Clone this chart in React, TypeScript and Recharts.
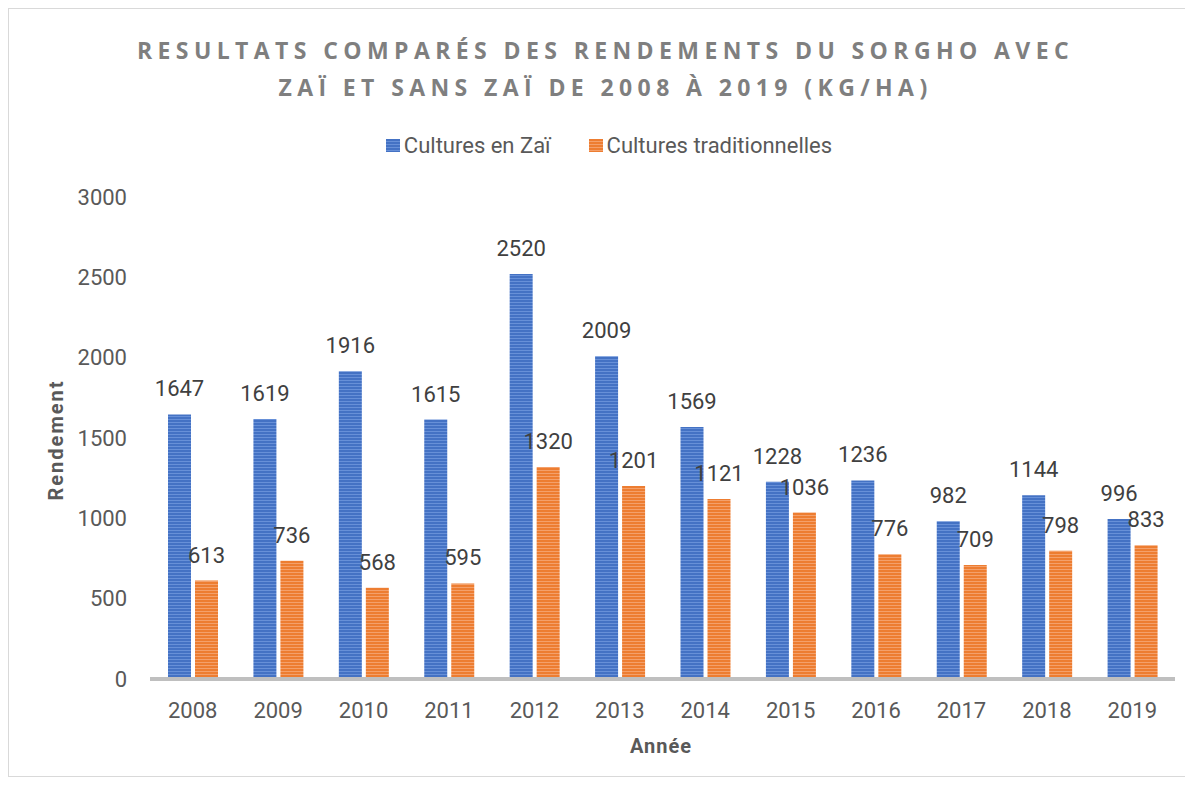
import { BarChart, Bar, XAxis, YAxis, LabelList } from "recharts";

const years = ["2008", "2009", "2010", "2011", "2012", "2013", "2014", "2015", "2016", "2017", "2018", "2019"];
const zaiYields = [1647, 1619, 1916, 1615, 2520, 2009, 1569, 1228, 1236, 982, 1144, 996];
const tradYields = [613, 736, 568, 595, 1320, 1201, 1121, 1036, 776, 709, 798, 833];
const yTicks = [0, 500, 1000, 1500, 2000, 2500, 3000];

const series = [
  { key: "zai", name: "Cultures en Zaï", color: "#4472C4", light: "#6790d8", pattern: "stripeBlue" },
  { key: "trad", name: "Cultures traditionnelles", color: "#ED7D31", light: "#f4a06a", pattern: "stripeOrange" },
];

const data = years.map((y, i) => ({ year: y, zai: zaiYields[i], trad: tradYields[i] }));

const textGray = "#595959";
const font = "Roboto, 'Noto Sans', sans-serif";

function LegendRow() {
  return (
    <div style={{ display: "flex", justifyContent: "center", alignItems: "center", height: 24, fontFamily: font, fontSize: 22, color: textGray }}>
      {series.map((s, i) => (
        <div key={s.key} style={{ display: "flex", alignItems: "center", marginLeft: i === 0 ? 0 : 38 }}>
          <div
            style={{
              width: 14,
              height: 13,
              marginRight: 4,
              background: `repeating-linear-gradient(to bottom, ${s.color} 0px, ${s.color} 2px, ${s.light} 2px, ${s.light} 3px)`,
            }}
          />
          <span>{s.name}</span>
        </div>
      ))}
    </div>
  );
}

export default function App() {
  return (
    <div
      style={{
        position: "relative",
        width: 1176,
        height: 767,
        border: "1px solid #d9d9d9",
        background: "#fff",
        overflow: "hidden",
      }}
    >
      <div
        style={{
          position: "absolute",
          top: 23,
          left: 0,
          width: 1176,
          textAlign: "center",
          fontFamily: "'Open Sans', sans-serif",
          fontWeight: 700,
          fontSize: 23,
          lineHeight: "37px",
          letterSpacing: 5.4,
          color: "#7f7f7f",
          paddingLeft: 17,
          boxSizing: "border-box",
        }}
      >
        <div>RESULTATS COMPARÉS DES RENDEMENTS DU SORGHO AVEC</div>
        <div>ZAÏ ET SANS ZAÏ DE 2008 À 2019 (KG/HA)</div>
      </div>

      <div style={{ position: "absolute", top: 124, left: 12, width: 1176 }}>
        <LegendRow />
      </div>

      <div
        style={{
          position: "absolute",
          left: 47,
          top: 431,
          transform: "translate(-50%, -50%) rotate(-90deg)",
          fontFamily: font,
          fontWeight: 700,
          fontSize: 20,
          letterSpacing: 2,
          color: textGray,
          whiteSpace: "nowrap",
        }}
      >
        Rendement
      </div>
      <div
        style={{
          position: "absolute",
          left: 652,
          top: 737,
          transform: "translate(-50%, -50%)",
          fontFamily: font,
          fontWeight: 700,
          fontSize: 20,
          letterSpacing: 1,
          color: textGray,
          whiteSpace: "nowrap",
        }}
      >
        Année
      </div>

      <div style={{ position: "absolute", left: 0, top: 0 }}>
        <BarChart
          width={1176}
          height={767}
          data={data}
          margin={{ top: 188, right: 10, bottom: 37, left: 0 }}
          barSize={23}
          barGap={4}
        >
          <defs>
            {series.map((s) => (
              <pattern key={s.pattern} id={s.pattern} patternUnits="userSpaceOnUse" width={6} height={3}>
                <rect x={0} y={0} width={6} height={3} fill={s.color} />
                <rect x={0} y={2} width={6} height={1} fill={s.light} />
              </pattern>
            ))}
          </defs>
          <XAxis
            dataKey="year"
            axisLine={{ stroke: "#bfbfbf", strokeWidth: 4 }}
            tickLine={false}
            tickSize={0}
            tickMargin={23}
            height={60}
            tick={{ fill: textGray, fontSize: 22, fontFamily: font }}
          />
          <YAxis
            domain={[0, 3000]}
            ticks={yTicks}
            width={141}
            axisLine={false}
            tickLine={false}
            tickSize={0}
            tickMargin={23}
            tick={{ fill: textGray, fontSize: 22, fontFamily: font }}
          />
          {series.map((s) => (
            <Bar key={s.key} dataKey={s.key} name={s.name} fill={`url(#${s.pattern})`} isAnimationActive={false}>
              <LabelList
                dataKey={s.key}
                position="top"
                offset={18}
                style={{ fill: "#404040", fontSize: 22, fontFamily: font }}
              />
            </Bar>
          ))}
        </BarChart>
      </div>
    </div>
  );
}
